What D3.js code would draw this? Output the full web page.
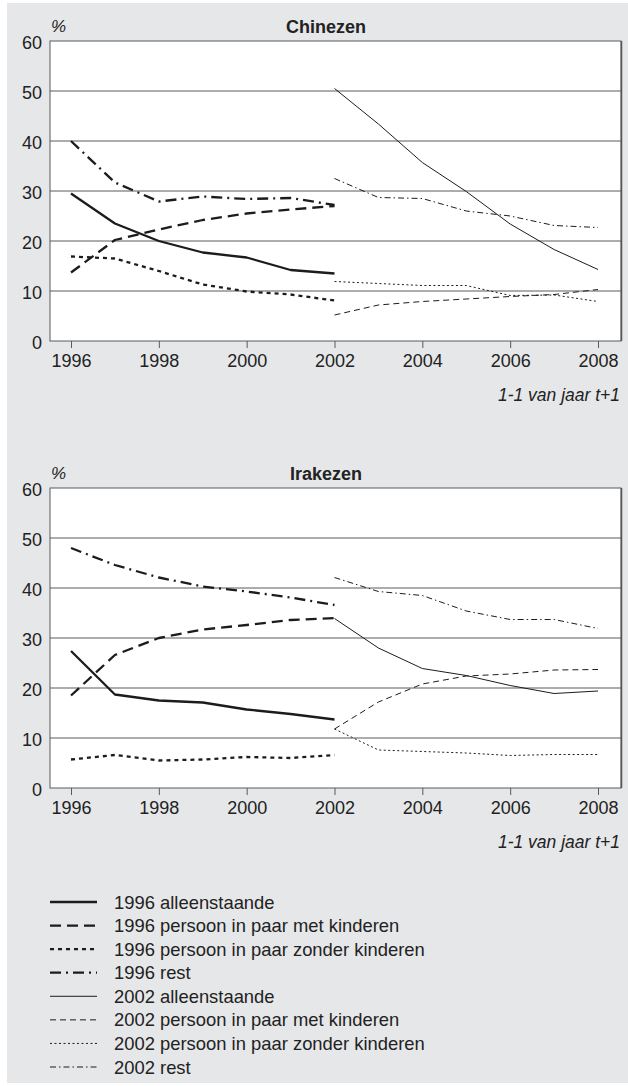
<!DOCTYPE html>
<html><head><meta charset="utf-8">
<script src="https://cdn.jsdelivr.net/npm/d3@7/dist/d3.min.js"></script>
<style>
html,body{margin:0;padding:0;background:#fff;}
svg{display:block;font-family:"Liberation Sans",Arial,Helvetica,sans-serif;}
</style></head>
<body>
<svg id="c" width="628" height="1086"></svg>
<script>
// ---- data ----
const years96 = [1996, 1997, 1998, 1999, 2000, 2001, 2002];
const years02 = [2002, 2003, 2004, 2005, 2006, 2007, 2008];
const xTickYears = [1996, 1998, 2000, 2002, 2004, 2006, 2008];
const yTickValues = [0, 10, 20, 30, 40, 50, 60];
const panelTitles = ["Chinezen", "Irakezen"];
const seriesNames = [
  "1996 alleenstaande",
  "1996 persoon in paar met kinderen",
  "1996 persoon in paar zonder kinderen",
  "1996 rest",
  "2002 alleenstaande",
  "2002 persoon in paar met kinderen",
  "2002 persoon in paar zonder kinderen",
  "2002 rest"
];

const chin96Alleen = [29.5, 23.5, 20.0, 17.7, 16.7, 14.2, 13.5];
const chin96Met    = [13.7, 20.2, 22.3, 24.2, 25.5, 26.3, 27.0];
const chin96Zonder = [16.9, 16.5, 14.0, 11.3, 9.9, 9.3, 8.1];
const chin96Rest   = [40.0, 31.7, 27.9, 28.9, 28.4, 28.6, 27.2];
const chin02Alleen = [50.5, 43.4, 35.7, 29.9, 23.4, 18.3, 14.3];
const chin02Met    = [5.2, 7.2, 7.9, 8.4, 8.9, 9.3, 10.3];
const chin02Zonder = [11.9, 11.5, 11.1, 11.1, 9.1, 9.2, 7.9];
const chin02Rest   = [32.5, 28.7, 28.5, 26.0, 25.0, 23.1, 22.7];

const irak96Alleen = [27.4, 18.7, 17.5, 17.1, 15.7, 14.8, 13.7];
const irak96Met    = [18.5, 26.6, 30.0, 31.7, 32.6, 33.6, 34.0];
const irak96Zonder = [5.7, 6.6, 5.5, 5.7, 6.2, 6.0, 6.6];
const irak96Rest   = [48.0, 44.6, 42.1, 40.3, 39.3, 38.1, 36.6];
const irak02Alleen = [33.9, 28.0, 23.9, 22.5, 20.5, 18.9, 19.4];
const irak02Met    = [11.8, 17.2, 20.8, 22.4, 22.8, 23.6, 23.7];
const irak02Zonder = [11.8, 7.6, 7.3, 7.0, 6.5, 6.7, 6.7];
const irak02Rest   = [42.1, 39.3, 38.5, 35.4, 33.7, 33.7, 31.9];

// ---- styles ----
const lineColor = "#1c1c1c";
const styles = [
  {w: 2.3, dash: null},
  {w: 2.3, dash: "11,6"},
  {w: 2.3, dash: "4,4"},
  {w: 2.3, dash: "11,5,2,5"},
  {w: 1, dash: null},
  {w: 1, dash: "6,4"},
  {w: 1, dash: "2,2.5"},
  {w: 1, dash: "6,3,1.5,3"}
];

const panels = [
  {title: panelTitles[0], top: 41, bottom: 341,
   series: [chin96Alleen, chin96Met, chin96Zonder, chin96Rest, chin02Alleen, chin02Met, chin02Zonder, chin02Rest]},
  {title: panelTitles[1], top: 488, bottom: 788,
   series: [irak96Alleen, irak96Met, irak96Zonder, irak96Rest, irak02Alleen, irak02Met, irak02Zonder, irak02Rest]}
];

const svg = d3.select("#c");
svg.append("rect").attr("x", 7).attr("y", 3).attr("width", 621).attr("height", 1080).attr("fill", "#e6e7e9");

const left = 50, right = 621;
const x = d3.scaleLinear().domain([1996, 2008]).range([71, 598]);
const gridColor = "#5a5a5a";
const textColor = "#222";
const fs = 18;

panels.forEach(p => {
  const y = d3.scaleLinear().domain([0, 60]).range([p.bottom, p.top]);
  const g = svg.append("g");
  g.append("rect").attr("x", left).attr("y", p.top).attr("width", right - left).attr("height", p.bottom - p.top)
    .attr("fill", "#fff");
  // gridlines
  g.selectAll("line.grid").data(yTickValues.filter(v => v > 0 && v < 60)).enter().append("line")
    .attr("x1", left).attr("x2", right).attr("y1", d => y(d)).attr("y2", d => y(d))
    .attr("stroke", gridColor).attr("stroke-width", 1);
  // border
  g.append("rect").attr("x", left).attr("y", p.top).attr("width", right - left).attr("height", p.bottom - p.top)
    .attr("fill", "none").attr("stroke", gridColor).attr("stroke-width", 1);
  g.append("line").attr("x1", right + 0.5).attr("x2", right + 0.5).attr("y1", p.top).attr("y2", p.bottom)
    .attr("stroke", "#555").attr("stroke-width", 1.5);

  // y axis labels
  const yAxis = d3.axisLeft(y).tickValues(yTickValues).tickSize(0).tickPadding(8);
  const ya = g.append("g").attr("transform", `translate(${left},0)`).call(yAxis);
  ya.select(".domain").remove();
  ya.selectAll("text").attr("font-size", fs).attr("fill", textColor).attr("dy", "0.4em")
    .attr("font-family", "Liberation Sans, Arial, sans-serif");

  // x axis
  const xAxis = d3.axisBottom(x).tickValues(xTickYears).tickFormat(d3.format("d")).tickSize(7).tickPadding(6);
  const xa = g.append("g").attr("transform", `translate(0,${p.bottom})`).call(xAxis);
  xa.select(".domain").remove();
  xa.selectAll("line").attr("stroke", gridColor);
  xa.selectAll("text").attr("font-size", fs).attr("fill", textColor)
    .attr("font-family", "Liberation Sans, Arial, sans-serif");

  // title and % label
  g.append("text").attr("x", 326).attr("y", p.top - 8).attr("text-anchor", "middle")
    .attr("font-weight", "bold").attr("font-size", 18).attr("fill", textColor).text(p.title);
  g.append("text").attr("x", 51).attr("y", p.top - 9).attr("font-style", "italic")
    .attr("font-size", 17).attr("fill", textColor).text("%");
  g.append("text").attr("x", 620).attr("y", p.bottom + 60).attr("text-anchor", "end")
    .attr("font-style", "italic").attr("font-size", 17.5).attr("fill", textColor).text("1-1 van jaar t+1");

  // lines
  const line = d3.line().x(d => x(d[0])).y(d => y(d[1]));
  p.series.forEach((vals, i) => {
    const yrs = i < 4 ? years96 : years02;
    const pts = yrs.map((yr, k) => [yr, vals[k]]);
    g.append("path").datum(pts).attr("d", line).attr("fill", "none")
      .attr("stroke", lineColor).attr("stroke-width", styles[i].w)
      .attr("stroke-dasharray", styles[i].dash)
      .attr("stroke-linejoin", "round");
  });
});

// legend
const lg = svg.append("g");
const legY = d3.scaleLinear().domain([0, 7]).range([902, 1067]);
seriesNames.forEach((name, i) => {
  const yy = legY(i);
  lg.append("line").attr("x1", 50).attr("x2", 97).attr("y1", yy).attr("y2", yy)
    .attr("stroke", lineColor).attr("stroke-width", styles[i].w).attr("stroke-dasharray", styles[i].dash);
  lg.append("text").attr("x", 114).attr("y", yy).attr("dy", "0.36em").attr("font-size", 18.4)
    .attr("fill", textColor).text(name);
});
</script>
</body></html>
